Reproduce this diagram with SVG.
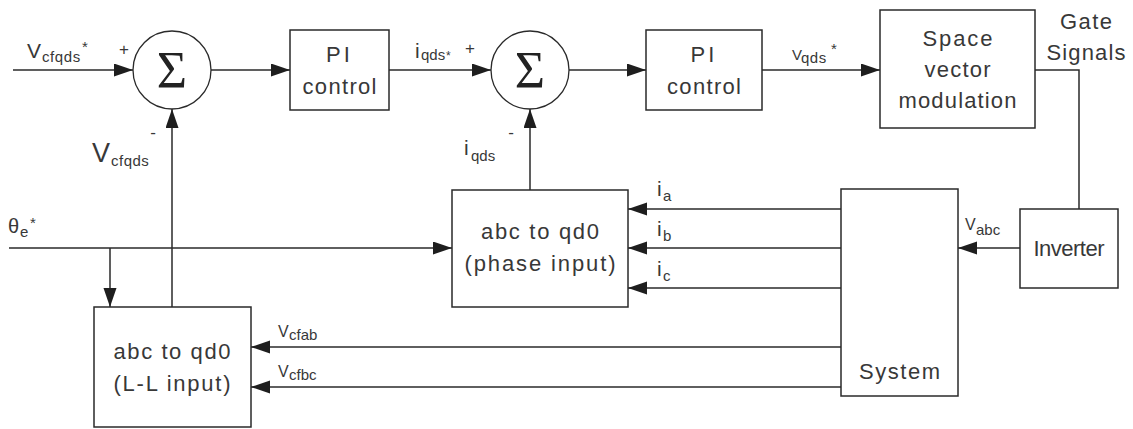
<svg xmlns="http://www.w3.org/2000/svg" width="1133" height="429" viewBox="0 0 1133 429">
  <style>
    .box { fill: #fff; stroke: #2a2a2a; stroke-width: 1.5; }
    .sum { fill: #fff; stroke: #2a2a2a; stroke-width: 1.3; }
    .wire { fill: none; stroke: #2a2a2a; stroke-width: 1.5; }
    .arr { marker-end: url(#head); }
    text { font-family: "Liberation Sans", Arial, sans-serif; fill: #383838; }
    .lbl { font-size: 22px; text-anchor: middle; }
    .sig { font-family: "Liberation Serif", "Times New Roman", serif; font-size: 52px; text-anchor: middle; fill: #222; }
    .sign { font-size: 17px; text-anchor: middle; }
    .big { font-size: 21px; }
    .sub { font-size: 15px; }
    .star { font-size: 15px; }
  </style>
  <defs>
    <marker id="head" markerUnits="userSpaceOnUse" markerWidth="20" markerHeight="14" refX="19" refY="6.5" orient="auto">
      <path d="M0,0 L19,6.5 L0,13 Z" fill="#1e1e1e"/>
    </marker>
  </defs>

  <!-- connectors -->
  <g id="connectors">
    <line class="wire arr" x1="13" y1="70" x2="133" y2="70"/>
    <line class="wire arr" x1="211" y1="70" x2="290" y2="70"/>
    <line class="wire arr" x1="389" y1="70" x2="491" y2="70"/>
    <line class="wire arr" x1="569" y1="70" x2="646" y2="70"/>
    <line class="wire arr" x1="762" y1="70" x2="880" y2="70"/>
    <polyline class="wire" points="1035,70 1079,70 1079,209"/>
    <line class="wire arr" x1="1020" y1="248" x2="958" y2="248"/>
    <line class="wire arr" x1="841" y1="209" x2="628" y2="209"/>
    <line class="wire arr" x1="841" y1="248" x2="628" y2="248"/>
    <line class="wire arr" x1="841" y1="288" x2="628" y2="288"/>
    <line class="wire arr" x1="841" y1="347" x2="251" y2="347"/>
    <line class="wire arr" x1="841" y1="387" x2="251" y2="387"/>
    <line class="wire arr" x1="530" y1="190" x2="530" y2="109"/>
    <line class="wire arr" x1="172" y1="307" x2="172" y2="109"/>
    <line class="wire arr" x1="9" y1="248" x2="452" y2="248"/>
    <line class="wire arr" x1="110" y1="248" x2="110" y2="307"/>
  </g>

  <!-- summing junctions -->
  <g id="sum1">
    <circle class="sum" cx="172" cy="70" r="39"/>
    <text class="sig" x="172" y="88">Σ</text>
  </g>
  <g id="sum2">
    <circle class="sum" cx="530" cy="70" r="39"/>
    <text class="sig" x="530" y="88">Σ</text>
  </g>

  <!-- blocks -->
  <g id="pi1">
    <rect class="box" x="290" y="30" width="99" height="80"/>
    <text class="lbl" x="339.5" y="62" letter-spacing="3">PI</text>
    <text class="lbl" x="339.5" y="94" textLength="74" lengthAdjust="spacing">control</text>
  </g>
  <g id="pi2">
    <rect class="box" x="646" y="30" width="116" height="80"/>
    <text class="lbl" x="704" y="62" letter-spacing="3">PI</text>
    <text class="lbl" x="704" y="94" textLength="74" lengthAdjust="spacing">control</text>
  </g>
  <g id="svm">
    <rect class="box" x="880" y="10" width="155" height="118"/>
    <text class="lbl" x="957.5" y="46" textLength="70" lengthAdjust="spacing">Space</text>
    <text class="lbl" x="957.5" y="77" textLength="66" lengthAdjust="spacing">vector</text>
    <text class="lbl" x="957.5" y="108" textLength="118" lengthAdjust="spacing">modulation</text>
  </g>
  <g id="gate-label">
    <text class="lbl" x="1086" y="29" textLength="52" lengthAdjust="spacing">Gate</text>
    <text class="lbl" x="1086" y="60" textLength="79" lengthAdjust="spacing">Signals</text>
  </g>
  <g id="inverter">
    <rect class="box" x="1020" y="209" width="98" height="79"/>
    <text class="lbl" x="1069" y="256" textLength="71" lengthAdjust="spacing">Inverter</text>
  </g>
  <g id="system">
    <rect class="box" x="841" y="189" width="117" height="207"/>
    <text class="lbl" x="899.5" y="379" textLength="81" lengthAdjust="spacing">System</text>
  </g>
  <g id="abc-phase">
    <rect class="box" x="452" y="190" width="176" height="117"/>
    <text class="lbl" x="540" y="239" textLength="118" lengthAdjust="spacing">abc to qd0</text>
    <text class="lbl" x="540" y="271" textLength="151" lengthAdjust="spacing">(phase input)</text>
  </g>
  <g id="abc-ll">
    <rect class="box" x="94" y="307" width="157" height="120"/>
    <text class="lbl" x="172" y="359" textLength="117" lengthAdjust="spacing">abc to qd0</text>
    <text class="lbl" x="172" y="391" textLength="117" lengthAdjust="spacing">(L-L input)</text>
  </g>

  <!-- signal labels -->
  <g id="signal-labels">
    <text x="27" y="58" class="big">V</text>
    <text x="42" y="62" class="sub" letter-spacing="0.6">cfqds</text>
    <text x="82" y="52" class="star">*</text>
    <text class="sign" x="124" y="55">+</text>
    <text class="sign" x="153" y="138">-</text>

    <text x="92" y="162" font-size="27">V</text>
    <text x="111" y="166" class="sub" letter-spacing="0.5">cfqds</text>

    <text x="415" y="58" class="big">i</text>
    <text x="421" y="60" class="sub">qds</text>
    <text x="446" y="60" font-size="12">*</text>
    <text class="sign" x="470" y="54">+</text>
    <text class="sign" x="511" y="138">-</text>

    <text x="464" y="155" class="big">i</text>
    <text x="471" y="161" class="sub">qds</text>

    <text x="792" y="60" font-size="15">V</text>
    <text x="801" y="63" class="sub" letter-spacing="0.5">qds</text>
    <text x="831" y="54" class="star">*</text>

    <text x="657" y="196" class="big">i</text>
    <text x="663" y="201" class="sub">a</text>
    <text x="657" y="236" class="big">i</text>
    <text x="663" y="241" class="sub">b</text>
    <text x="657" y="276" class="big">i</text>
    <text x="663" y="281" class="sub">c</text>

    <text x="965" y="230" font-size="16">V</text>
    <text x="976" y="235" class="sub" font-size="14">abc</text>

    <text x="278" y="337" font-size="16">V</text>
    <text x="289" y="340" class="sub" font-size="13">cfab</text>
    <text x="278" y="377" font-size="16">V</text>
    <text x="289" y="380" class="sub" font-size="13">cfbc</text>

    <text x="8" y="233" font-size="20">θ</text>
    <text x="20" y="237" class="sub" font-size="14">e</text>
    <text x="30" y="228" class="star">*</text>
  </g>
</svg>
